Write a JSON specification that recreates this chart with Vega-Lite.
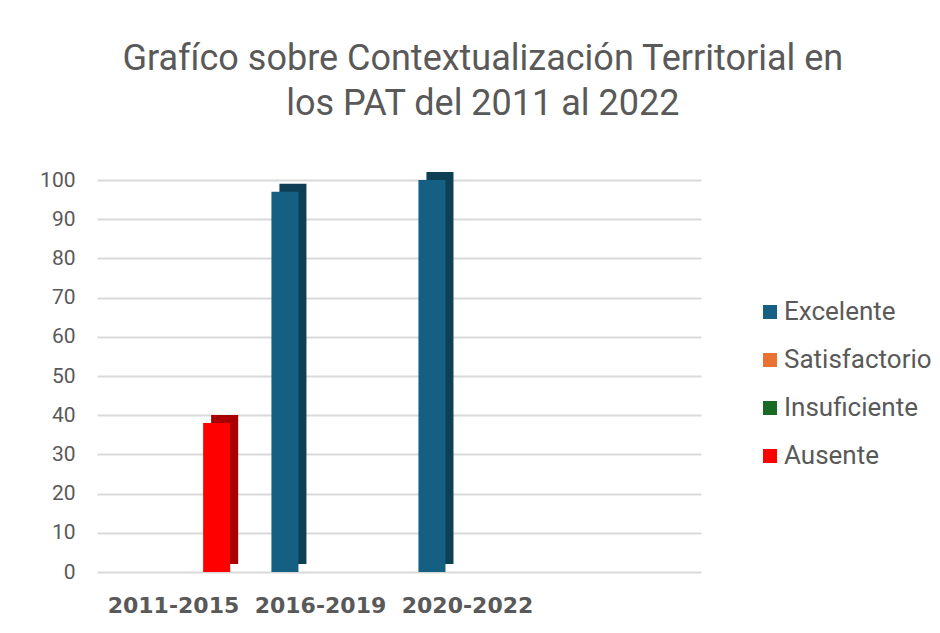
{
  "$schema": "https://vega.github.io/schema/vega-lite/v6.json",
  "width": 604,
  "height": 392,
  "padding": {"left": 39, "top": 41, "right": 10, "bottom": 10},
  "background": "white",
  "config": {"view": {"stroke": null}},
  "title": {
    "text": ["Grafíco sobre Contextualización Territorial en", "los PAT del 2011 al 2022"],
    "fontSize": 36,
    "font": "Roboto",
    "fontWeight": "normal",
    "color": "#595959",
    "lineHeight": 45,
    "frame": "bounds",
    "anchor": "middle",
    "dx": -3,
    "offset": 46
  },
  "data": {
    "values": [
      {"periodo": "2011-2015", "nivel": "Ausente", "valor": 38},
      {"periodo": "2016-2019", "nivel": "Excelente", "valor": 97},
      {"periodo": "2020-2022", "nivel": "Excelente", "valor": 100}
    ]
  },
  "encoding": {
    "x": {
      "field": "periodo",
      "type": "nominal",
      "scale": {"domain": ["2011-2015", "2016-2019", "2020-2022", ""], "paddingInner": 0.286, "paddingOuter": 0.197},
      "axis": {
        "title": null,
        "labelAngle": 0,
        "labelFont": "DejaVu Sans",
        "labelFontWeight": "bold",
        "labelFontSize": 22,
        "labelColor": "#595959",
        "labelPadding": 23,
        "labelOffset": -5,
        "domain": false,
        "ticks": false,
        "grid": false
      }
    },
    "y": {
      "field": "valor",
      "type": "quantitative",
      "scale": {"domain": [0, 100]},
      "axis": {
        "title": null,
        "values": [0, 10, 20, 30, 40, 50, 60, 70, 80, 90, 100],
        "labelFont": "Roboto",
        "labelFontSize": 21,
        "labelColor": "#595959",
        "labelPadding": 22,
        "domain": false,
        "ticks": false,
        "grid": true,
        "gridColor": "#d9d9d9",
        "gridWidth": 2
      }
    }
  },
  "layer": [
    {
      "mark": {"type": "bar", "width": {"band": 1.03}, "yOffset": -8, "y2Offset": 5},
      "encoding": {
        "xOffset": {
          "field": "nivel",
          "type": "nominal",
          "scale": {"domain": ["Excelente", "Satisfactorio", "Insuficiente", "Ausente"], "range": [8, 113]}
        },
        "color": {
          "field": "nivel",
          "type": "nominal",
          "scale": {"domain": ["Excelente", "Satisfactorio", "Insuficiente", "Ausente"], "range": ["#0e3f55", "#a24f22", "#114a19", "#a80000"]},
          "legend": null
        }
      }
    },
    {
      "mark": {"type": "bar", "width": {"band": 1.03}},
      "encoding": {
        "xOffset": {
          "field": "nivel",
          "type": "nominal",
          "scale": {"domain": ["Excelente", "Satisfactorio", "Insuficiente", "Ausente"]}
        },
        "color": {
          "field": "nivel",
          "type": "nominal",
          "scale": {"domain": ["Excelente", "Satisfactorio", "Insuficiente", "Ausente"], "range": ["#156082", "#E97132", "#196B24", "#FF0000"]},
          "legend": {
            "title": null,
            "orient": "none",
            "legendX": 660,
            "legendY": 119,
            "symbolType": "square",
            "symbolSize": 196,
            "symbolStrokeWidth": 0,
            "labelFont": "Roboto",
            "labelFontSize": 26,
            "labelColor": "#595959",
            "labelOffset": 1,
            "rowPadding": 22
          }
        }
      }
    }
  ],
  "resolve": {"scale": {"color": "independent", "xOffset": "independent"}}
}
